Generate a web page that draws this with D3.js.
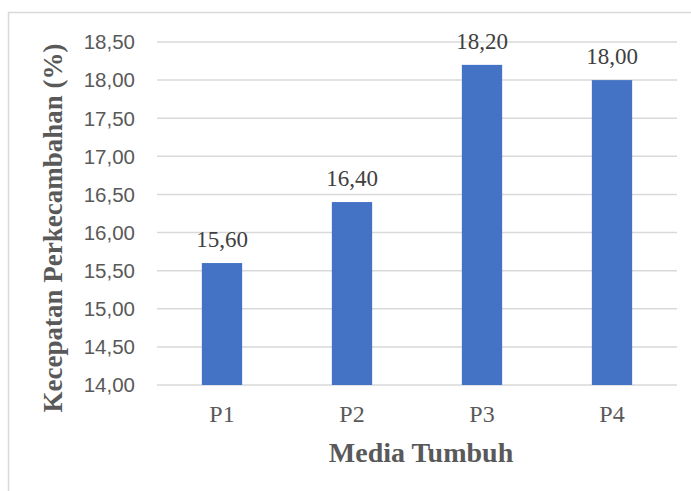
<!DOCTYPE html>
<html><head><meta charset="utf-8">
<script src="https://cdn.jsdelivr.net/npm/d3@7"></script>
<style>body{margin:0;background:#fff}svg{display:block}</style>
</head><body>
<script>
const categories = ["P1","P2","P3","P4"];
const values = [15.60, 16.40, 18.20, 18.00];
const yTicks = [14.0,14.5,15.0,15.5,16.0,16.5,17.0,17.5,18.0,18.5];
const xTitle = "Media Tumbuh";
const yTitle = "Kecepatan Perkecambahan (%)";

const W = 691, H = 491;
const svg = d3.select("body").append("svg").attr("width", W).attr("height", H);
// chart border
svg.append("rect").attr("x", 8.5).attr("y", 12.5).attr("width", 700).attr("height", 500)
  .attr("fill", "none").attr("stroke", "#d9d9d9").attr("stroke-width", 1.5);

const x = d3.scaleBand().domain(categories).range([157, 677]).paddingInner(0.69).paddingOuter(0.345);
const y = d3.scaleLinear().domain([14, 18.5]).range([385, 42]);
const fmt = v => d3.format(".2f")(v).replace(".", ",");
const serif = "Liberation Serif, Times New Roman, serif";

// gridlines
svg.append("g").selectAll("line").data(yTicks).join("line")
  .attr("x1", 157).attr("x2", 677).attr("y1", d => y(d)).attr("y2", d => y(d))
  .attr("stroke", "#d9d9d9").attr("stroke-width", 1.5);

// y tick labels
svg.append("g").selectAll("text").data(yTicks).join("text")
  .attr("x", 135).attr("y", d => y(d)).attr("dy", "0.36em").attr("text-anchor", "end")
  .attr("font-family", "Liberation Sans, Arial, sans-serif").attr("font-size", 20.5)
  .attr("fill", "#595959").text(fmt);

// bars
svg.append("g").selectAll("rect").data(values).join("rect")
  .attr("x", (d, i) => x(categories[i])).attr("width", x.bandwidth())
  .attr("y", d => y(d)).attr("height", d => y(14) - y(d)).attr("fill", "#4472c4");

// value labels
svg.append("g").selectAll("text").data(values).join("text")
  .attr("x", (d, i) => x(categories[i]) + x.bandwidth() / 2).attr("y", d => y(d) - 16)
  .attr("text-anchor", "middle").attr("font-family", serif)
  .attr("font-size", 23).attr("fill", "#404040").text(fmt);

// x tick labels
svg.append("g").selectAll("text").data(categories).join("text")
  .attr("x", d => x(d) + x.bandwidth() / 2).attr("y", 422).attr("text-anchor", "middle")
  .attr("font-family", serif).attr("font-size", 24)
  .attr("fill", "#595959").text(d => d);

// axis titles
svg.append("text").attr("x", 421).attr("y", 462).attr("text-anchor", "middle")
  .attr("font-family", serif).attr("font-size", 28)
  .attr("font-weight", "bold").attr("fill", "#595959").text(xTitle);
svg.append("text").attr("transform", "translate(62,228) rotate(-90)").attr("text-anchor", "middle")
  .attr("font-family", serif).attr("font-size", 27)
  .attr("font-weight", "bold").attr("fill", "#595959").text(yTitle);
</script>
</body></html>
